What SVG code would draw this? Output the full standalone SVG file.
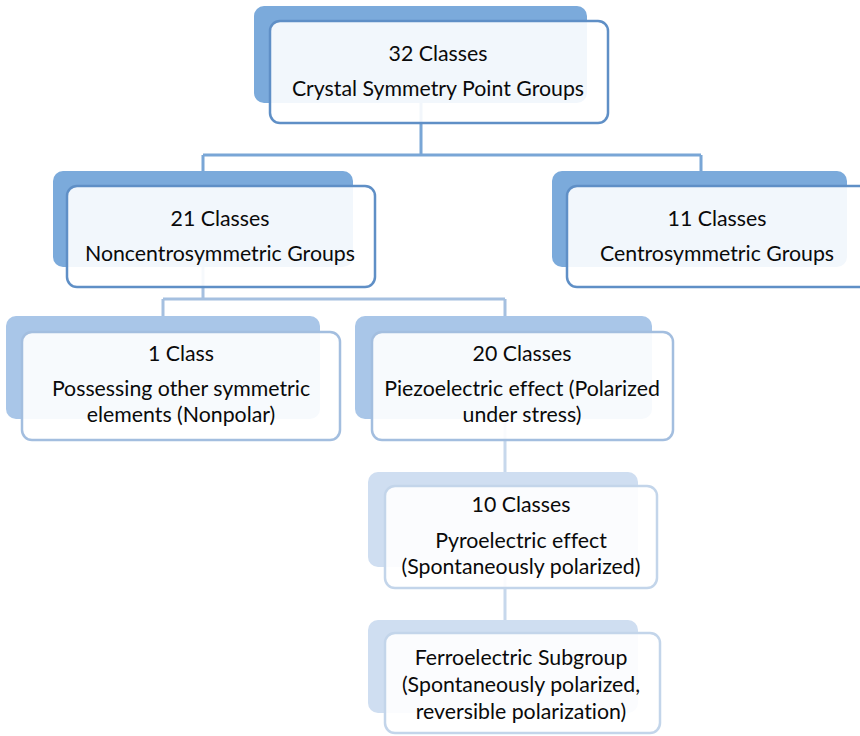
<svg xmlns="http://www.w3.org/2000/svg" width="860" height="736" viewBox="0 0 860 736">
  <style>
    .txt { font-family: Lato, "Liberation Sans", sans-serif; font-size: 21.3px; fill: #0a0a0a; text-anchor: middle; font-variant-ligatures: none; }
    .front { fill: #ffffff; fill-opacity: 0.9; stroke-width: 2.5; }
    .l1 .back { fill: #7baadb; }
    .l1 .front { stroke: #5f8fc6; }
    .l2 .back { fill: #a9c6e8; }
    .l2 .front { stroke: #a3bedf; }
    .l3 .back { fill: #cfdef1; }
    .l3 .front { stroke: #c3d5ea; }
    .conn { fill: none; stroke-width: 3; }
  </style>
  <rect width="860" height="736" fill="#ffffff"/>

  <!-- connectors -->
  <g id="connectors">
    <path class="conn" stroke="#79a6d6" d="M421 103 V155 M203 155 H701 M203 155 V171 M701 155 V171"/>
    <path class="conn" stroke="#a5c0e0" d="M203 267 V299 M163 299 H505 M163 299 V316 M505 299 V316"/>
    <path class="conn" stroke="#c7d8ec" d="M505 419 V472 M505 567 V620"/>
  </g>

  <g id="node-32" class="l1">
    <rect class="back" x="254" y="6" width="333" height="97" rx="10"/>
    <rect class="front" x="270" y="21" width="338" height="102" rx="10"/>
    <text class="txt" x="438" y="61">32 Classes</text>
    <text class="txt" x="438" y="96">Crystal Symmetry Point Groups</text>
  </g>

  <g id="node-21" class="l1">
    <rect class="back" x="53" y="171" width="300" height="96" rx="10"/>
    <rect class="front" x="67" y="186" width="308" height="101" rx="10"/>
    <text class="txt" x="220" y="226">21 Classes</text>
    <text class="txt" x="220" y="261">Noncentrosymmetric Groups</text>
  </g>

  <g id="node-11" class="l1">
    <rect class="back" x="552" y="171" width="295" height="96" rx="10"/>
    <rect class="front" x="567" y="186" width="303" height="101" rx="10"/>
    <text class="txt" x="717" y="226">11 Classes</text>
    <text class="txt" x="717" y="261">Centrosymmetric Groups</text>
  </g>

  <g id="node-1" class="l2">
    <rect class="back" x="6" y="316" width="314" height="103" rx="10"/>
    <rect class="front" x="22" y="332" width="318" height="108" rx="10"/>
    <text class="txt" x="181" y="361">1 Class</text>
    <text class="txt" x="181" y="396">Possessing other symmetric</text>
    <text class="txt" x="181" y="422">elements (Nonpolar)</text>
  </g>

  <g id="node-20" class="l2">
    <rect class="back" x="355" y="316" width="297" height="103" rx="10"/>
    <rect class="front" x="372" y="332" width="301" height="108" rx="10"/>
    <text class="txt" x="522" y="361">20 Classes</text>
    <text class="txt" x="522" y="396">Piezoelectric effect (Polarized</text>
    <text class="txt" x="522" y="422">under stress)</text>
  </g>

  <g id="node-10" class="l3">
    <rect class="back" x="368" y="472" width="270" height="95" rx="10"/>
    <rect class="front" x="385" y="486" width="272" height="102" rx="10"/>
    <text class="txt" x="521" y="512">10 Classes</text>
    <text class="txt" x="521" y="548">Pyroelectric effect</text>
    <text class="txt" x="521" y="574">(Spontaneously polarized)</text>
  </g>

  <g id="node-ferro" class="l3">
    <rect class="back" x="368" y="620" width="270" height="93" rx="10"/>
    <rect class="front" x="385" y="633" width="275" height="100" rx="10"/>
    <text class="txt" x="521" y="665">Ferroelectric Subgroup</text>
    <text class="txt" x="521" y="692">(Spontaneously polarized,</text>
    <text class="txt" x="521" y="719">reversible polarization)</text>
  </g>
</svg>
